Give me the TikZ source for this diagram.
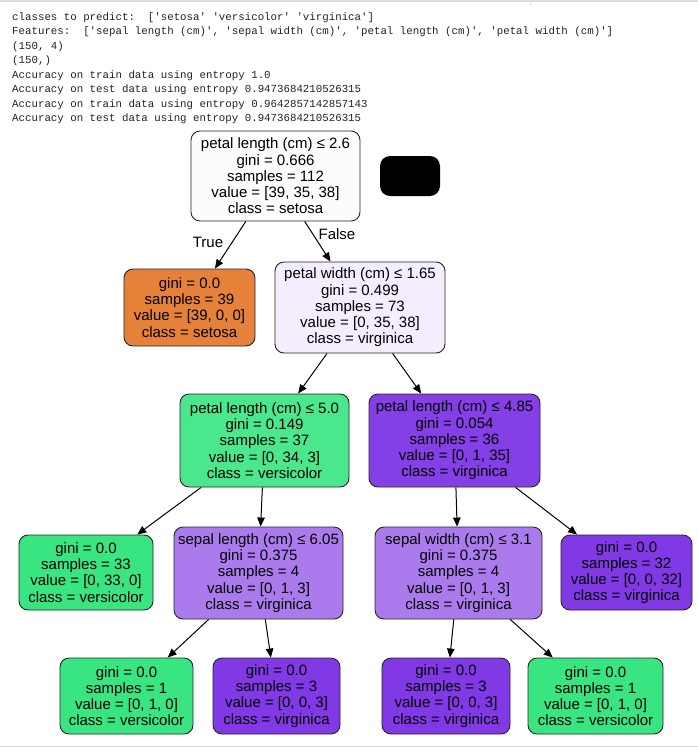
\documentclass[tikz,border=0pt]{standalone}
\usepackage{fontspec}
\usetikzlibrary{arrows.meta}
\newfontfamily\treefont{Liberation Sans}
\newfontfamily\logfont{Liberation Mono}
\definecolor{rootc}{HTML}{FEFCFB}
\definecolor{setosac}{HTML}{E58139}
\definecolor{versc}{HTML}{39E581}
\definecolor{virgc}{HTML}{8139E5}
\definecolor{ronec}{HTML}{F3EDFD}
\definecolor{ac}{HTML}{4AE78C}
\definecolor{bc}{HTML}{853FE6}
\definecolor{dc}{HTML}{AB7BEE}
\definecolor{logtext}{HTML}{222222}
\definecolor{rulegray}{HTML}{DCDCDC}
\begin{document}
\begin{tikzpicture}[x=1pt,y=1pt,
  tnode/.style={draw=black!85, rounded corners=9pt, line width=0.9pt, align=center,
    font=\treefont\fontsize{15}{16.2}\selectfont, inner sep=0pt, text=black},
  edge/.style={-{Triangle[length=9pt,width=7.5pt]}, line width=1pt, black},
  elabel/.style={font=\treefont\fontsize{15}{16}\selectfont, inner sep=0pt}]
\useasboundingbox (0,0) rectangle (698,-748);
\fill[white] (0,0) rectangle (698,-748);
% window rules
\draw[rulegray, line width=1.5pt] (0,-0.75) -- (698,-0.75);
\draw[rulegray, line width=1pt] (530,0) -- (530,-5);
\draw[rulegray, line width=1.5pt] (0,-746.5) -- (698,-746.5);
% console log (anchor base = baseline of the last line)
\node[anchor=base west, align=left, inner sep=0pt, text=logtext,
  font=\logfont\fontsize{10.77}{14.5}\selectfont] (log) at (12,-121.5) {classes to predict:\ \ ['setosa' 'versicolor' 'virginica']\\
Features:\ \ ['sepal length (cm)', 'sepal width (cm)', 'petal length (cm)', 'petal width (cm)']\\
(150, 4)\\
(150,)\\
Accuracy on train data using entropy 1.0\\
Accuracy on test data using entropy 0.9473684210526315\\
Accuracy on train data using entropy 0.9642857142857143\\
Accuracy on test data using entropy 0.9473684210526315};
% tree nodes
\node[tnode, fill=rootc, minimum width=169pt, minimum height=90pt] (root) at (275.5,-176)
  {petal length (cm) ≤ 2.6\\gini = 0.666\\samples = 112\\value = [39, 35, 38]\\class = setosa};
\node[fill=black, rounded corners=10pt, minimum width=60pt, minimum height=40pt, inner sep=0pt] (blk) at (410,-176) {};
\node[tnode, fill=setosac, minimum width=131pt, minimum height=77pt] (l1) at (189.5,-307.5)
  {gini = 0.0\\samples = 39\\value = [39, 0, 0]\\class = setosa};
\node[tnode, fill=ronec, minimum width=170pt, minimum height=91pt] (r1) at (360,-307.5)
  {petal width (cm) ≤ 1.65\\gini = 0.499\\samples = 73\\value = [0, 35, 38]\\class = virginica};
\node[tnode, fill=ac, minimum width=169pt, minimum height=93pt] (a) at (264.5,-440.5)
  {petal length (cm) ≤ 5.0\\gini = 0.149\\samples = 37\\value = [0, 34, 3]\\class = versicolor};
\node[tnode, fill=bc, minimum width=171pt, minimum height=93pt] (b) at (454.5,-440.5)
  {petal length (cm) ≤ 4.85\\gini = 0.054\\samples = 36\\value = [0, 1, 35]\\class = virginica};
\node[tnode, fill=versc, minimum width=134pt, minimum height=75pt] (c) at (86,-572.5)
  {gini = 0.0\\samples = 33\\value = [0, 33, 0]\\class = versicolor};
\node[tnode, fill=dc, minimum width=169pt, minimum height=92pt] (d) at (258.5,-573)
  {sepal length (cm) ≤ 6.05\\gini = 0.375\\samples = 4\\value = [0, 1, 3]\\class = virginica};
\node[tnode, fill=dc, minimum width=167pt, minimum height=92pt] (e) at (458.5,-573)
  {sepal width (cm) ≤ 3.1\\gini = 0.375\\samples = 4\\value = [0, 1, 3]\\class = virginica};
\node[tnode, fill=virgc, minimum width=131pt, minimum height=75pt] (f) at (626.5,-572.5)
  {gini = 0.0\\samples = 32\\value = [0, 0, 32]\\class = virginica};
\node[tnode, fill=versc, minimum width=133pt, minimum height=76pt] (g) at (126.5,-696)
  {gini = 0.0\\samples = 1\\value = [0, 1, 0]\\class = versicolor};
\node[tnode, fill=virgc, minimum width=127pt, minimum height=76pt] (h) at (276.5,-696)
  {gini = 0.0\\samples = 3\\value = [0, 0, 3]\\class = virginica};
\node[tnode, fill=virgc, minimum width=128pt, minimum height=76pt] (i) at (446,-696)
  {gini = 0.0\\samples = 3\\value = [0, 0, 3]\\class = virginica};
\node[tnode, fill=versc, minimum width=135pt, minimum height=76pt] (j) at (595.5,-696)
  {gini = 0.0\\samples = 1\\value = [0, 1, 0]\\class = versicolor};
% edges
\draw[edge] (root) -- (l1);
\draw[edge] (root) -- (r1);
\draw[edge] (r1) -- (a);
\draw[edge] (r1) -- (b);
\draw[edge] (a) -- (c);
\draw[edge] (a) -- (d);
\draw[edge] (b) -- (e);
\draw[edge] (b) -- (f);
\draw[edge] (d) -- (g);
\draw[edge] (d) -- (h);
\draw[edge] (e) -- (i);
\draw[edge] (e) -- (j);
% edge labels
\node[elabel] (tlab) at (208,-242) {True};
\node[elabel] (flab) at (337,-234) {False};
\end{tikzpicture}
\end{document}
